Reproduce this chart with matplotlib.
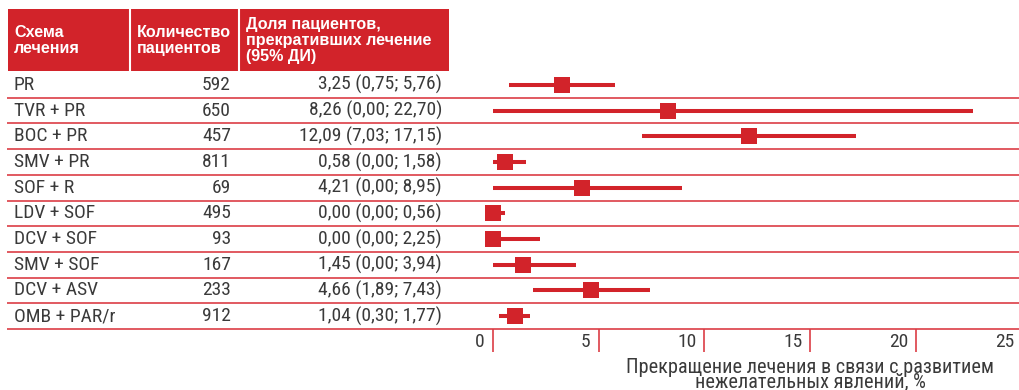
import matplotlib
matplotlib.use("Agg")
import matplotlib.pyplot as plt
from matplotlib import font_manager
from matplotlib.patches import Rectangle
from matplotlib.transforms import blended_transform_factory, offset_copy

# treatment regimens, patient counts, discontinuation rate with 95% CI
regimens = ["PR", "TVR + PR", "BOC + PR", "SMV + PR", "SOF + R",
            "LDV + SOF", "DCV + SOF", "SMV + SOF", "DCV + ASV", "OMB + PAR/r"]
patients = [592, 650, 457, 811, 69, 495, 93, 167, 233, 912]
rate = [3.25, 8.26, 12.09, 0.58, 4.21, 0.00, 0.00, 1.45, 4.66, 1.04]
ci_low = [0.75, 0.00, 7.03, 0.00, 0.00, 0.00, 0.00, 0.00, 1.89, 0.30]
ci_high = [5.76, 22.70, 17.15, 1.58, 8.95, 0.56, 2.25, 3.94, 7.43, 1.77]
xticks = [0, 5, 10, 15, 20, 25]

headers = ["Схема\nлечения", "Количество\nпациентов",
           "Доля пациентов,\nпрекративших лечение\n(95% ДИ)"]
xlabel = "Прекращение лечения в связи с развитием\nнежелательных явлений, %"

RED = "#d2232a"
LINE = "#dc3d45"
TXT = "#3a3a3a"

available = {f.name for f in font_manager.fontManager.ttflist}
light_font = next((f for f in ["Liberation Sans Narrow", "Roboto Condensed",
                               "Roboto", "DejaVu Sans"] if f in available))
head_font = "Liberation Sans" if "Liberation Sans" in available else "DejaVu Sans"

W, H = 1020, 390
fig = plt.figure(figsize=(W / 100, H / 100), dpi=100)

# table layer in pixel coordinates
tab = fig.add_axes([0, 0, 1, 1])
tab.set_xlim(0, W)
tab.set_ylim(H, 0)
tab.axis("off")

top, bottom = 72, 329
n = len(regimens)
row_h = (bottom - top) / n

tab.add_patch(Rectangle((8, 9), 441, 62, color=RED, lw=0))
for xd in [130, 239.5]:
    tab.plot([xd, xd], [9, 71], color="white", lw=1.5)

head_x = [14, 137, 246]
for hx, h in zip(head_x, headers):
    tab.text(hx, 40.5, h, color="white", fontsize=11.6, fontweight="bold",
             family=head_font, va="center", ha="left", linespacing=1.1)

for i in range(n):
    yc = top + row_h * (i + 0.5)
    tab.text(14, yc, regimens[i], color=TXT, fontsize=14,
             family=light_font, va="center", ha="left")
    tab.text(231, yc, str(patients[i]), color=TXT, fontsize=14,
             family=light_font, va="center", ha="right")
    label = f"{rate[i]:.2f} ({ci_low[i]:.2f}; {ci_high[i]:.2f})".replace(".", ",")
    tab.text(442, yc, label, color=TXT, fontsize=14,
             family=light_font, va="center", ha="right")
    yl = top + row_h * (i + 1)
    tab.plot([7, W], [yl, yl], color=LINE, lw=1.2, solid_capstyle="butt")

# forest plot
x0, x25 = 492.7, 1022.0
ax = fig.add_axes([x0 / W, (H - bottom) / H, (x25 - x0) / W, (bottom - top) / H])
ax.patch.set_alpha(0)
ax.set_xlim(0, 25)
ax.set_ylim(n - 0.5, -0.5)
for s in ax.spines.values():
    s.set_visible(False)
ax.set_yticks([])
ax.set_xticks(xticks)
ax.tick_params(axis="x", length=16.5, width=1.2, color=LINE,
               direction="out", labelbottom=False)

rows = list(range(n))
ax.hlines(rows, ci_low, ci_high, color=RED, lw=2.9, capstyle="butt",
          clip_on=False)
ax.plot(rate, rows, "s", color=RED, markersize=11.5, mew=0, clip_on=False)

trans = blended_transform_factory(ax.transData, ax.transAxes)
trans = offset_copy(trans, fig=fig, x=-8, y=-13, units="dots")
for t in xticks:
    ax.text(t, 0, str(t), transform=trans, ha="right", va="center",
            color=TXT, fontsize=14, family=light_font, clip_on=False)

tab.text(810, 375, xlabel, color=TXT, fontsize=14.6, family=light_font,
         ha="center", va="center", linespacing=0.68)

fig.savefig("out.png", dpi=100)
